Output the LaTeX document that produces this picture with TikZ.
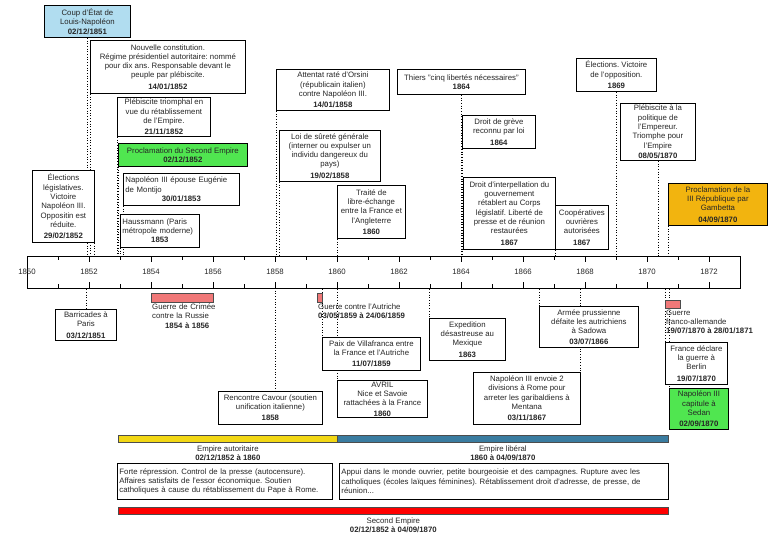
\documentclass[tikz,border=0pt]{standalone}
\usepackage{fontspec}
\setmainfont{Liberation Sans}
\usetikzlibrary{positioning,shadows,backgrounds}
\usepackage{xcolor}
\definecolor{coupblue}{RGB}{177,221,240}
\definecolor{procgreen}{RGB}{80,230,80}
\definecolor{repuborange}{RGB}{242,180,15}
\definecolor{warred}{RGB}{240,120,120}
\definecolor{autoyellow}{RGB}{242,215,20}
\definecolor{libblue}{RGB}{58,124,160}
\definecolor{empred}{RGB}{255,0,0}
\frenchspacing

% x position of a date on the axis
\newcommand\yx[1]{27+(#1-1850)*31}

\begin{document}
\begin{tikzpicture}[x=1pt, y=-1pt,
    font=\fontsize{7.8}{9.3}\selectfont, text=black!85,
    evt/.style={draw, fill=white, line width=0.8pt, align=center, inner sep=1pt, anchor=north west,
      drop shadow={shadow xshift=1pt, shadow yshift=-1pt, opacity=.3}},
    wh/.style 2 args={minimum width=#1pt, minimum height=#2pt},
    tl/.style={dotted, line width=0.7pt},
    bar/.style={draw=black!70, line width=0.7pt, anchor=north west, inner sep=0pt},
    note/.style={align=center, inner sep=1pt}]
\useasboundingbox (0,0) rectangle (768,544);

% Axis
\node[draw, line width=1.2pt, anchor=north west, minimum width=713pt, minimum height=32pt, inner sep=0pt] (axis) at (27,256) {};
\foreach \y in {1851,1853,...,1871} {
  \draw[line width=0.9pt] ({\yx{\y}},256) -- ++(0,4);
  \draw[line width=0.9pt] ({\yx{\y}},288) -- ++(0,-4);
}
\foreach \y in {1852,1854,...,1872} {
  \draw[line width=0.9pt] ({\yx{\y}},256) -- ++(0,6);
  \draw[line width=0.9pt] ({\yx{\y}},288) -- ++(0,-6);
}
\foreach \y in {1850,1852,...,1872}
  \node at ({\yx{\y}},272) {\y};
\coordinate (d1858) at ({\yx{1858}},288);

% Events above
\node[evt, wh={86}{32}, fill=coupblue] (coup) at (44,5) {Coup d'État de\\Louis-Napoléon\\\textbf{02/12/1851}};
\node[evt, wh={155}{53}] (constit) at (90,40) {Nouvelle constitution.\\Régime présidentiel autoritaire: nommé\\pour dix ans. Responsable devant le\\peuple par plébiscite.\\[2pt]\textbf{14/01/1852}};
\node[evt, wh={93}{39}] (plebi52) at (117,97) {Plébiscite triomphal en\\vue du rétablissement\\de l'Empire.\\[2pt]\textbf{21/11/1852}};
\node[evt, wh={129}{23}, fill=procgreen] (procl) at (118,143) {Proclamation du Second Empire\\\textbf{02/12/1852}};
\node[evt, wh={116}{32}, text width=112pt, align=left] (mariage) at (123,173) {Napoléon III épouse Eugénie\\de Montijo\par{\centering\textbf{30/01/1853}\par}};
\node[evt, wh={79}{33}, text width=75pt, align=left] (hauss) at (120,214) {Haussmann (Paris\\métropole moderne)\par{\centering\textbf{1853}\par}};
\node[evt, wh={62}{72}] (elect52) at (32,170) {Élections\\législatives.\\Victoire\\Napoléon III.\\Oppositin est\\réduite.\\[2pt]\textbf{29/02/1852}};
\node[evt, wh={113}{41}] (orsini) at (276,69) {Attentat raté d'Orsini\\(républicain italien)\\contre Napoléon III.\\[2pt]\textbf{14/01/1858}};
\node[evt, wh={101}{51}] (surete) at (279,130) {Loi de sûreté générale\\(interner ou expulser un\\individu dangereux du\\pays)\\[2pt]\textbf{19/02/1858}};
\node[evt, wh={68}{53}] (traite) at (337,185) {Traité de\\libre-échange\\entre la France et\\l'Angleterre\\[2pt]\textbf{1860}};
\node[evt, wh={128}{25}] (thiers) at (397,69) {Thiers "cinq libertés nécessaires"\\\textbf{1864}};
\node[evt, wh={73}{33}] (greve) at (462,115) {Droit de grève\\reconnu par loi\\[2pt]\textbf{1864}};
\node[evt, wh={92}{72}] (interp) at (463,177) {Droit d'interpellation du\\gouvernement\\rétablert au Corps\\législatif. Liberté de\\presse et de réunion\\restaurées\\[2pt]\textbf{1867}};
\node[evt, wh={53}{44}] (coop) at (555,205) {Coopératives\\ouvrières\\autorisées\\[2pt]\textbf{1867}};
\node[evt, wh={80}{33}] (elect69) at (576,58) {Élections. Victoire\\de l'opposition.\\[2pt]\textbf{1869}};
\node[evt, wh={75}{57}] (plebi70) at (620,103) {Plébiscite à la\\politique de\\l'Empereur.\\Triomphe pour\\l'Empire\\[1pt]\textbf{08/05/1870}};
\node[evt, wh={99}{42}, fill=repuborange] (repub) at (668,183) {Proclamation de la\\III République par\\Gambetta\\[2pt]\textbf{04/09/1870}};

% Events below
\node[evt, wh={61}{31}] (barric) at (55,309) {Barricades à\\Paris\\[2pt]\textbf{03/12/1851}};
\node[evt, wh={98}{33}] (paix) at (322,337) {Paix de Villafranca entre\\la France et l'Autriche\\[2pt]\textbf{11/07/1859}};
\node[evt, wh={90}{37}] (nice) at (337,380) {AVRIL\\Nice et Savoie\\rattachées à la France\\[1pt]\textbf{1860}};
\node[evt, wh={104}{33}] (cavour) at (218,391) {Rencontre Cavour (soutien\\unification italienne)\\[2pt]\textbf{1858}};
\node[evt, wh={76}{42}] (mexique) at (429,318) {Expedition\\désastreuse au\\Mexique\\[2pt]\textbf{1863}};
\node[evt, wh={99}{41}] (sadowa) at (539,306) {Armée prussienne\\défaite les autrichiens\\à Sadowa\\[1pt]\textbf{03/07/1866}};
\node[evt, wh={107}{52}] (mentana) at (473,372) {Napoléon III envoie 2\\divisions à Rome pour\\arreter les garibaldiens à\\Mentana\\[2pt]\textbf{03/11/1867}};
\node[evt, wh={62}{42}] (berlin) at (665,342) {France déclare\\la guerre à\\Berlin\\[2pt]\textbf{19/07/1870}};
\node[evt, wh={59}{41}, fill=procgreen] (sedan) at (669,388) {Napoléon III\\capitule à\\Sedan\\[2pt]\textbf{02/09/1870}};

% Wars
\node[bar, fill=warred, minimum width=62pt, minimum height=9pt] (crimee) at (151,293) {};
\node[anchor=north west, text width=70pt, align=left, inner sep=1pt] (crimeetxt) at (crimee.south west) {Guerre de Crimée\\contre la Russie\par{\centering\textbf{1854 à 1856}\par}};
\node[bar, fill=warred, minimum width=5pt, minimum height=9pt] (autr) at (317,293) {};
\node[anchor=north west, align=left, inner sep=1pt] (autrtxt) at (autr.south west) {Guerre contre l'Autriche\\\textbf{03/05/1859 à 24/06/1859}};
\node[bar, fill=warred, minimum width=15pt, minimum height=8pt] (franco) at (665,300) {};
\node[anchor=north west, align=left, inner sep=1pt] (francotxt) at (franco.south west) {Guerre\\franco-allemande\\\textbf{19/07/1870 à 28/01/1871}};

% Periods
\node[bar, fill=autoyellow, minimum width=219pt, minimum height=7pt] (autor) at (118,435) {};
\node[bar, fill=libblue, minimum width=331pt, minimum height=7pt] (liber) at (337,435) {};
\node[note, below=2pt of autor] (autorlbl) {Empire autoritaire\\\textbf{02/12/1852 à 1860}};
\node[note, below=2pt of liber] (liberlbl) {Empire libéral\\\textbf{1860 à 04/09/1870}};
\node[evt, wh={215}{36}, text width=211pt, align=left] (autordesc) at (117,463) {Forte répression. Control de la presse (autocensure).\\Affaires satisfaits de l'essor économique. Soutien\\catholiques à cause du rétablissement du Pape à Rome.};
\node[evt, wh={329}{36}, text width=325pt, align=left] (liberdesc) at (339,463) {Appui dans le monde ouvrier, petite bourgeoisie et des campagnes. Rupture avec les\\catholiques (écoles laïques féminines). Rétablissement droit d'adresse, de presse, de\\réunion...};
\node[bar, fill=empred, minimum width=550pt, minimum height=7pt] (second) at (118,507) {};
\node[note, below=2pt of second] (secondlbl) {Second Empire\\\textbf{02/12/1852 à 04/09/1870}};

% Date lines
\begin{scope}[on background layer]
\draw[tl] (coup.south) -- (coup.south |- axis.north);
\draw[tl] (constit.south west) -- (constit.south west |- axis.north);
\draw[tl] (plebi52.south west) -- (plebi52.south west |- axis.north);
\draw[tl] (procl.south west) -- (procl.south west |- axis.north);
\draw[tl] (mariage.south west) -- (mariage.south west |- axis.north);
\draw[tl] (hauss.south west) -- (hauss.south west |- axis.north);
\draw[tl] (elect52.south east) -- (elect52.south east |- axis.north);
\draw[tl] (orsini.south west) -- (orsini.south west |- axis.north);
\draw[tl] (surete.south west) -- (surete.south west |- axis.north);
\draw[tl] (traite.south west) -- (traite.south west |- axis.north);
\draw[tl] (thiers.south) -- (thiers.south |- axis.north);
\draw[tl] (greve.south west) -- (greve.south west |- axis.north);
\draw[tl] (coop.south west) -- (coop.south west |- axis.north);
\draw[tl] (elect69.south) -- (elect69.south |- axis.north);
\draw[tl] (plebi70.south) -- (plebi70.south |- axis.north);
\draw[tl] (repub.south west) -- (repub.south west |- axis.north);
\draw[tl] (barric.north |- axis.south) -- (barric.north);
\draw[tl] (paix.north west |- axis.south) -- (paix.north west);
\draw[tl] (nice.north west |- axis.south) -- (nice.north west);
\draw[tl] (d1858) -- (d1858 |- cavour.north);
\draw[tl] (mexique.north west |- axis.south) -- (mexique.north west);
\draw[tl] (sadowa.north west |- axis.south) -- (sadowa.north west);
\draw[tl] (mentana.north east |- axis.south) -- (mentana.north east);
\draw[tl] (berlin.north west |- axis.south) -- (berlin.north west);
\draw[tl] (sedan.north west |- axis.south) -- (sedan.north west);
\end{scope}
\end{tikzpicture}
\end{document}
